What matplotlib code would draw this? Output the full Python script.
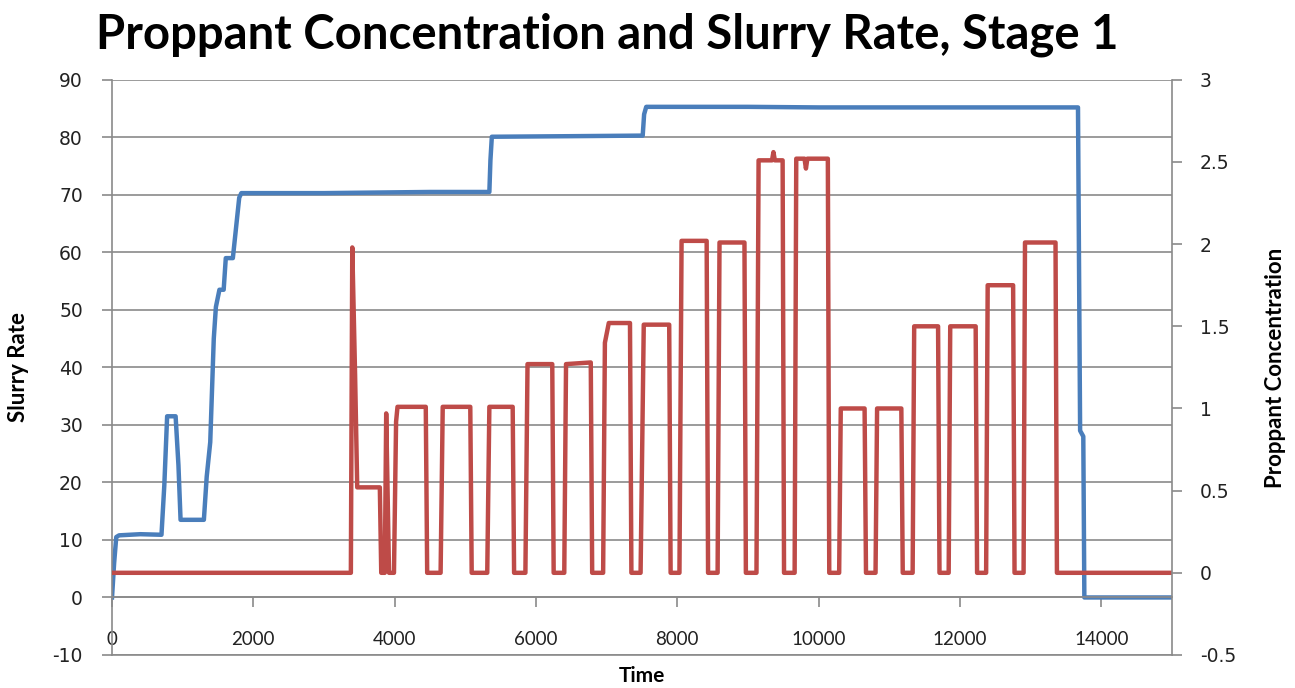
import matplotlib
matplotlib.use("Agg")
import matplotlib.pyplot as plt
from matplotlib.ticker import MultipleLocator, FormatStrFormatter

plt.rcParams["axes.unicode_minus"] = False

# slurry rate (left axis)
rate_time = [0, 30, 60, 100, 400, 700, 740, 780, 900, 940, 970, 1300, 1340, 1390,
             1440, 1470, 1520, 1580, 1610, 1710, 1800, 1830, 3000, 4500, 5340, 5355,
             5375, 6500, 7510, 7530, 7560, 9000, 10000, 13670, 13700, 13745, 13760, 15000]
rate = [0, 6, 10.5, 10.8, 11, 10.9, 19.5, 31.5, 31.5, 23, 13.5, 13.5, 21, 27,
        45, 50.5, 53.5, 53.5, 59, 59, 69.5, 70.3, 70.3, 70.5, 70.5, 76,
        80.1, 80.2, 80.3, 84, 85.3, 85.3, 85.2, 85.2, 29, 28, 0, 0]

# proppant concentration (right axis)
conc_time = [0, 3380, 3400, 3440, 3470, 3790, 3810, 3860, 3880, 3920, 3990, 4020, 4040,
             4440, 4460, 4650, 4680, 5070, 5090, 5310, 5340, 5670, 5690,
             5850, 5880, 6230, 6250, 6400, 6425, 6775, 6795,
             6950, 6975, 7030, 7330, 7350, 7480, 7525, 7885, 7905,
             8030, 8060, 8415, 8435, 8570, 8597, 8950, 8970,
             9120, 9150, 9340, 9360, 9380, 9490, 9510, 9660, 9683, 9800, 9820, 9840, 10130, 10150,
             10290, 10313, 10650, 10670, 10805, 10827, 11170, 11190,
             11330, 11352, 11690, 11710, 11840, 11862, 12222, 12242,
             12370, 12392, 12752, 12772, 12900, 12920, 13352, 13372, 15000]
conc = [0, 0, 1.98, 1.2, 0.52, 0.52, 0, 0, 0.97, 0, 0, 0.92, 1.01,
        1.01, 0, 0, 1.01, 1.01, 0, 0, 1.01, 1.01, 0,
        0, 1.27, 1.27, 0, 0, 1.27, 1.28, 0,
        0, 1.4, 1.52, 1.52, 0, 0, 1.51, 1.51, 0,
        0, 2.02, 2.02, 0, 0, 2.01, 2.01, 0,
        0, 2.51, 2.51, 2.56, 2.51, 2.51, 0, 0, 2.52, 2.52, 2.46, 2.52, 2.52, 0,
        0, 1.0, 1.0, 0, 0, 1.0, 1.0, 0,
        0, 1.5, 1.5, 0, 0, 1.5, 1.5, 0,
        0, 1.75, 1.75, 0, 0, 2.01, 2.01, 0, 0]

grid_col = "#8a8a8a"
blue = "#4a7ebb"
red = "#be4b48"

fig = plt.figure(figsize=(12.95, 6.88), dpi=100)
ax = fig.add_axes([0.0865, 0.048, 0.8185, 0.836])
ax2 = ax.twinx()

ax.plot(rate_time, rate, color=blue, lw=3.2, solid_joinstyle="round")
ax2.plot(conc_time, conc, color=red, lw=3.2, solid_joinstyle="round")

ax.set_xlim(0, 15000)
ax.set_ylim(-10, 90)
ax2.set_ylim(-0.5, 3)
ax.yaxis.set_major_locator(MultipleLocator(10))
ax2.yaxis.set_major_locator(MultipleLocator(0.5))
ax2.yaxis.set_major_formatter(FormatStrFormatter("%g"))
ax.xaxis.set_major_locator(MultipleLocator(2000))

ax.grid(axis="y", color=grid_col, lw=1.2)
ax.set_axisbelow(True)

for a in (ax, ax2):
    for s in a.spines.values():
        s.set_color(grid_col)
        s.set_linewidth(1.2)
    a.spines["top"].set_visible(False)
ax.spines["right"].set_visible(False)
ax2.spines["left"].set_visible(False)
ax2.spines["bottom"].set_visible(False)
ax.spines["bottom"].set_position(("data", 0))
ax.axhline(-10, color=grid_col, lw=1.2, clip_on=False)

ax.tick_params(axis="y", length=7, width=1.2, color=grid_col, pad=14,
               labelsize=13.5, labelcolor="#222222")
ax2.tick_params(axis="y", length=7, width=1.2, color=grid_col, pad=13,
                labelsize=13.5, labelcolor="#222222")
ax.tick_params(axis="x", length=7, width=1.2, color=grid_col, pad=17,
               labelsize=13.5, labelcolor="#222222")
for t in ax.get_xticklabels():
    t.set_family("Lato")
for t in ax.get_yticklabels() + ax2.get_yticklabels():
    t.set_family("DejaVu Sans")

ax.set_xlabel("Time", family="Lato", fontweight="bold", fontsize=15)
ax.xaxis.set_label_coords(0.5, -0.02)
ax.set_ylabel("Slurry Rate", family="Lato", fontweight="bold", fontsize=16)
ax.yaxis.set_label_coords(-0.078, 0.5)
ax2.set_ylabel("Proppant Concentration", family="Lato", fontweight="bold", fontsize=16)
ax2.yaxis.set_label_coords(1.088, 0.5)

fig.text(0.469, 0.949, "Proppant Concentration and Slurry Rate, Stage 1",
         family="Lato", fontweight="bold", fontsize=34, ha="center", va="center")

fig.savefig("out.png", dpi=100)
